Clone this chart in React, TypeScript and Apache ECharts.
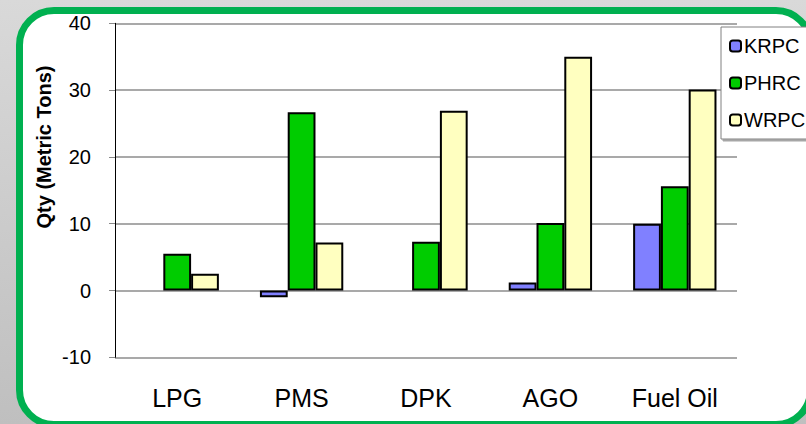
import React, { useEffect, useRef } from "react";
import * as echarts from "echarts";

const categories = ["LPG", "PMS", "DPK", "AGO", "Fuel Oil"];
const krpc = [null, -1.0, null, 1.2, 10.0];
const phrc = [5.5, 26.7, 7.3, 10.1, 15.6];
const wrpc = [2.5, 7.2, 26.9, 35.0, 30.1];
const seriesNames = ["KRPC", "PHRC", "WRPC"];
const seriesColors = ["#8080FF", "#00CC00", "#FFFFC0"];
const yTitle = "Qty (Metric Tons)";

const FONT = "'Liberation Sans', Arial, sans-serif";

export default function App() {
  const ref = useRef<HTMLDivElement>(null);
  useEffect(() => {
    if (!ref.current) return;
    const chart = echarts.init(ref.current, undefined, { renderer: "svg" });
    const values = [krpc, phrc, wrpc];
    chart.setOption({
      animation: false,
      backgroundColor: "transparent",
      textStyle: { fontFamily: FONT, color: "#000" },
      grid: { left: 115, right: 103, top: 23.3, bottom: 66.7, containLabel: false },
      legend: {
        orient: "vertical",
        left: 721,
        top: 27,
        padding: [9, 30, 9, 8],
        itemWidth: 11,
        itemHeight: 11,
        itemGap: 17,
        backgroundColor: "#fff",
        borderColor: "#808080",
        borderWidth: 1,
        shadowColor: "rgba(0,0,0,0.35)",
        shadowOffsetX: 2,
        shadowOffsetY: 2,
        shadowBlur: 0,
        textStyle: { fontSize: 20, fontFamily: FONT, color: "#000", padding: [0, 0, 0, -2] },
        itemStyle: { borderColor: "#000", borderWidth: 2 },
        data: seriesNames,
      },
      xAxis: {
        type: "category",
        data: categories,
        axisLine: { show: false },
        axisTick: { show: false },
        axisLabel: { fontSize: 25, color: "#000", margin: 28, fontFamily: FONT },
      },
      yAxis: {
        type: "value",
        min: -10,
        max: 40,
        interval: 10,
        axisLine: { show: true, lineStyle: { color: "#000", width: 1 } },
        axisTick: { show: true, length: 6, lineStyle: { color: "#888" } },
        axisLabel: { fontSize: 20, color: "#000", margin: 24, fontFamily: FONT },
        splitLine: { show: true, lineStyle: { color: "#8c8c8c", width: 1.5 } },
      },
      graphic: [
        {
          type: "text",
          x: 44,
          y: 147,
          rotation: Math.PI / 2,
          style: {
            text: yTitle,
            fontSize: 20,
            fontWeight: "bold",
            fontFamily: FONT,
            fill: "#000",
            align: "center",
            verticalAlign: "middle",
          },
        },
      ],
      series: seriesNames.map((name, i) => ({
        name,
        type: "bar",
        data: values[i],
        barGap: "0%",
        barCategoryGap: "33%",
        itemStyle: { color: seriesColors[i], borderColor: "#000", borderWidth: 2 },
      })),
    });
    return () => chart.dispose();
  }, []);

  return (
    <div
      style={{
        position: "fixed",
        left: 0,
        top: 0,
        width: 806,
        height: 424,
        overflow: "hidden",
        background: "linear-gradient(#d9d9d9, #bfbfbf)",
      }}
    >
      <div
        style={{
          position: "absolute",
          left: 16,
          top: 7,
          width: 798,
          height: 421,
          boxSizing: "border-box",
          border: "7px solid #00B050",
          borderRadius: 38,
          background: "#fff",
        }}
      />
      <div ref={ref} style={{ position: "absolute", left: 0, top: 0, width: 840, height: 424 }} />
    </div>
  );
}
